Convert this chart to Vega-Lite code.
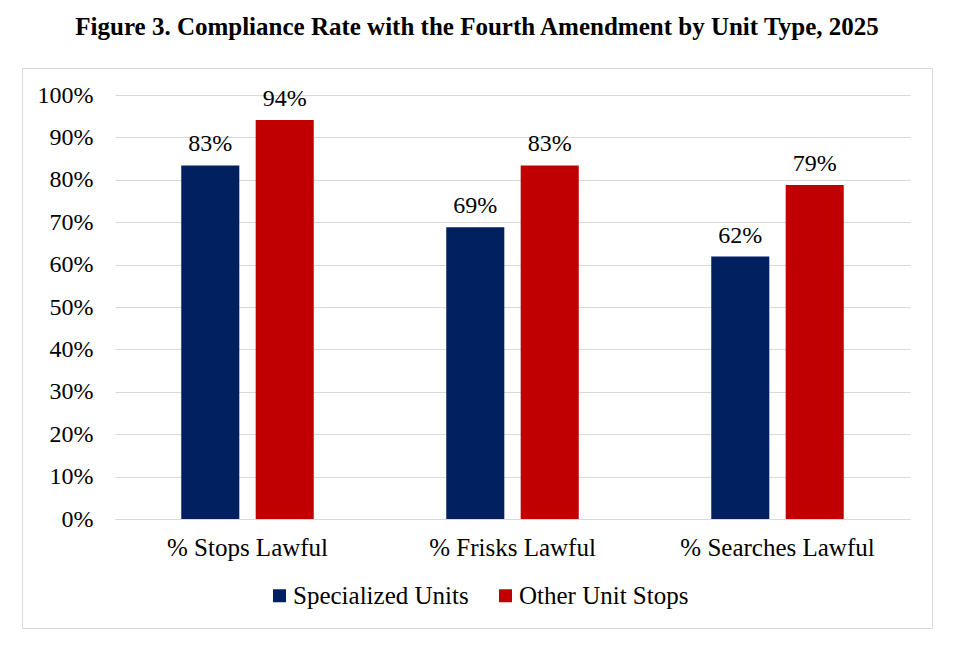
{
  "$schema": "https://vega.github.io/schema/vega-lite/v6.json",
  "autosize": {"type": "none"},
  "padding": {"left": 22, "top": 68, "right": 25, "bottom": 18},
  "width": 910,
  "height": 560,
  "background": "white",
  "title": {
    "text": "Figure 3.  Compliance Rate with the Fourth Amendment by Unit Type, 2025",
    "font": "Liberation Serif",
    "fontSize": 25,
    "fontWeight": "bold",
    "color": "black",
    "anchor": "middle",
    "baseline": "bottom",
    "offset": 3
  },
  "config": {
    "view": {"stroke": "#d9d9d9", "strokeWidth": 1},
    "font": "Liberation Serif"
  },
  "data": {
    "values": [
      {"measure": "% Stops Lawful", "unit": "Specialized Units", "rate": 0.834},
      {"measure": "% Stops Lawful", "unit": "Other Unit Stops", "rate": 0.941},
      {"measure": "% Frisks Lawful", "unit": "Specialized Units", "rate": 0.688},
      {"measure": "% Frisks Lawful", "unit": "Other Unit Stops", "rate": 0.834},
      {"measure": "% Searches Lawful", "unit": "Specialized Units", "rate": 0.619},
      {"measure": "% Searches Lawful", "unit": "Other Unit Stops", "rate": 0.788}
    ]
  },
  "encoding": {
    "x": {
      "field": "measure",
      "type": "nominal",
      "sort": ["% Stops Lawful", "% Frisks Lawful", "% Searches Lawful"],
      "scale": {"range": [93, 888], "paddingInner": 0.5, "paddingOuter": 0.25},
      "axis": {
        "title": null,
        "orient": "bottom",
        "offset": -109,
        "labelAngle": 0,
        "labelFont": "Liberation Serif",
        "labelFontSize": 25,
        "labelColor": "black",
        "labelPadding": 16,
        "labelLimit": 400,
        "ticks": false,
        "domain": true,
        "domainColor": "#d9d9d9",
        "domainWidth": 1
      }
    },
    "xOffset": {
      "field": "unit",
      "type": "nominal",
      "sort": ["Specialized Units", "Other Unit Stops"],
      "scale": {"paddingInner": 0.22, "paddingOuter": 0}
    },
    "y": {
      "field": "rate",
      "type": "quantitative",
      "scale": {"domain": [0, 1], "range": [451, 27], "nice": false, "zero": true},
      "axis": {
        "title": null,
        "orient": "left",
        "offset": -93,
        "format": ".0%",
        "values": [0, 0.1, 0.2, 0.3, 0.4, 0.5, 0.6, 0.7, 0.8, 0.9, 1.0],
        "labelFont": "Liberation Serif",
        "labelFontSize": 24,
        "labelColor": "black",
        "labelPadding": 22,
        "ticks": false,
        "domain": false,
        "grid": true,
        "gridColor": "#d9d9d9",
        "gridWidth": 1
      }
    }
  },
  "layer": [
    {
      "mark": {"type": "bar"},
      "encoding": {
        "color": {
          "field": "unit",
          "type": "nominal",
          "sort": ["Specialized Units", "Other Unit Stops"],
          "scale": {"domain": ["Specialized Units", "Other Unit Stops"], "range": ["#002060", "#C00000"]},
          "legend": {
            "title": null,
            "orient": "none",
            "direction": "horizontal",
            "legendX": 245,
            "legendY": 515,
            "symbolType": "square",
            "symbolSize": 169,
            "symbolStrokeWidth": 0,
            "labelFont": "Liberation Serif",
            "labelFontSize": 25,
            "labelColor": "black",
            "labelOffset": 1,
            "columnPadding": 24,
            "padding": 0,
            "labelLimit": 400
          }
        }
      }
    },
    {
      "mark": {
        "type": "text",
        "baseline": "alphabetic",
        "dy": -14,
        "font": "Liberation Serif",
        "fontSize": 24,
        "color": "black"
      },
      "encoding": {
        "text": {"field": "rate", "type": "quantitative", "format": ".0%"}
      }
    }
  ]
}
